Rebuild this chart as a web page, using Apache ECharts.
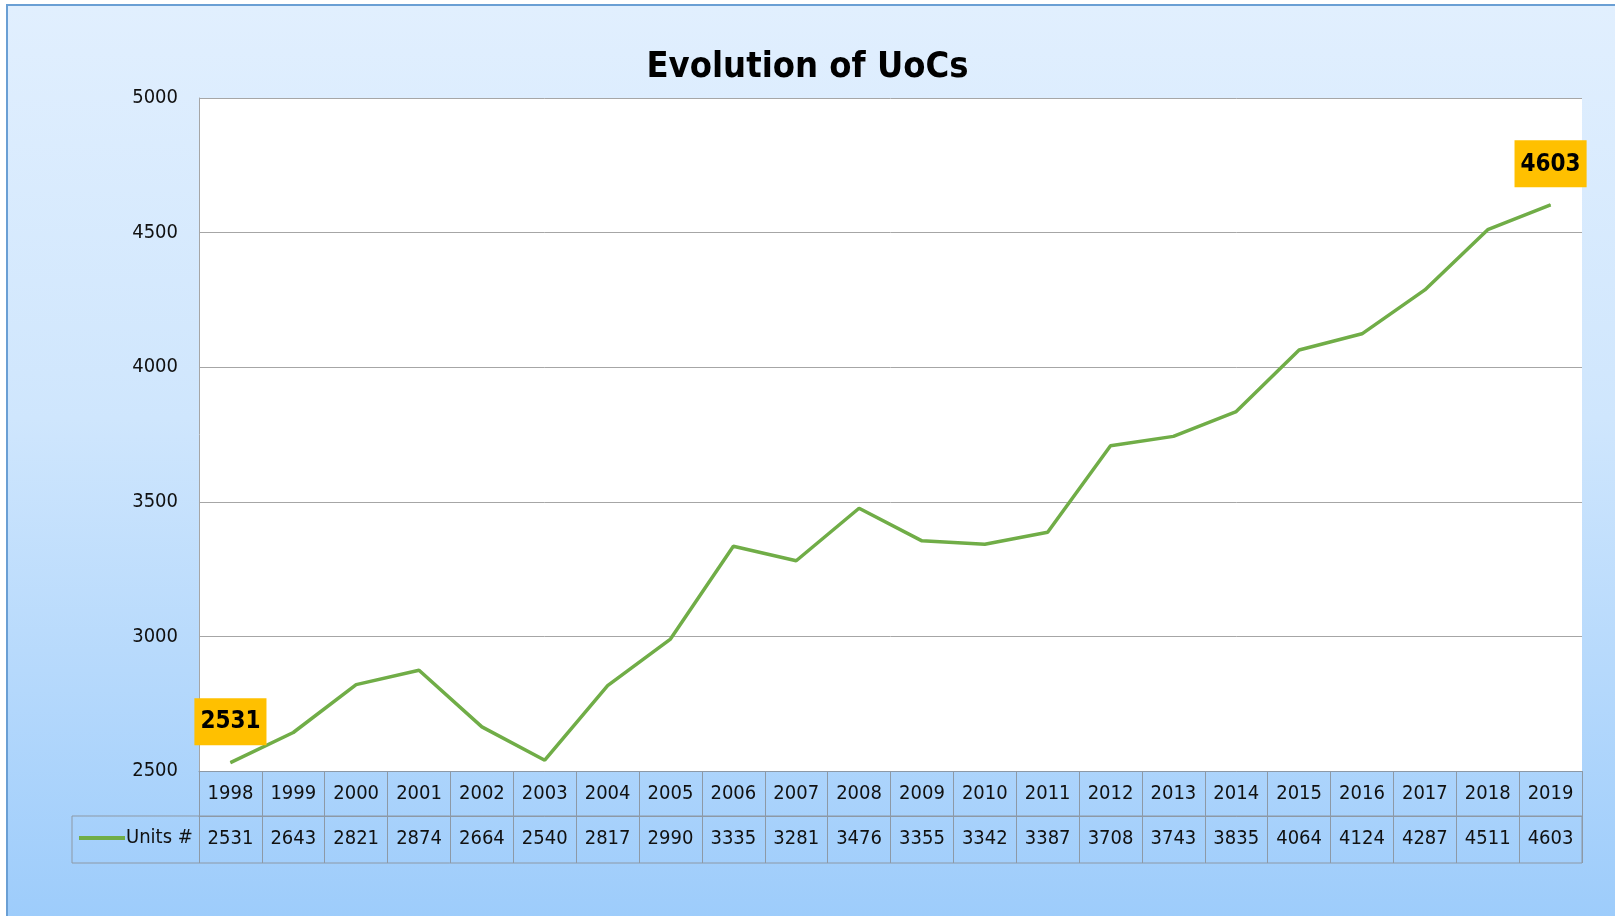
<!DOCTYPE html>
<html>
<head>
<meta charset="utf-8">
<title>Evolution of UoCs</title>
<script src="https://cdn.jsdelivr.net/npm/echarts@6/dist/echarts.min.js"></script>
<style>
  html, body { margin: 0; padding: 0; background: #fff; overflow: hidden; }
  #frame {
    position: absolute; left: 6px; top: 4px; width: 1615px; height: 916px;
    border-left: 2px solid #6a9fd4; border-top: 2px solid #6a9fd4;
    background: linear-gradient(to bottom, #e1effe 0%, #cfe6fd 45%, #9dccfb 100%);
  }
  #chart { position: absolute; left: 0; top: 0; width: 1615px; height: 916px; }
</style>
</head>
<body>
<div id="frame"></div>
<div id="chart"></div>
<script>
// chart data
var years = ['1998', '1999', '2000', '2001', '2002', '2003', '2004', '2005', '2006', '2007', '2008',
  '2009', '2010', '2011', '2012', '2013', '2014', '2015', '2016', '2017', '2018', '2019']
var units = [2531, 2643, 2821, 2874, 2664, 2540, 2817, 2990, 3335, 3281, 3476,
  3355, 3342, 3387, 3708, 3743, 3835, 4064, 4124, 4287, 4511, 4603]
var seriesName = 'Units #'
var yTicks = { min: 2500, max: 5000, interval: 500 }

var narrow = '"DejaVu Sans Condensed", "Liberation Sans", sans-serif'
var tableLine = '#8d99a6'
var textColor = '#111'

var chart = echarts.init(document.getElementById('chart'))

// only the first and the last point get the orange callout
var lineData = units.map(function (v, i) {
  var item = { value: v }
  if (i === 0 || i === units.length - 1) {
    item.label = {
      show: true,
      position: 'top',
      distance: 17,
      backgroundColor: '#ffc000',
      padding: [12, 6, 11, 6],
      color: '#000',
      fontFamily: narrow,
      fontWeight: 'bold',
      fontSize: 24
    }
  }
  return item
})

chart.setOption({
  backgroundColor: 'transparent',
  animation: false,
  title: {
    text: 'Evolution of UoCs',
    left: 'center',
    top: 45,
    textStyle: {
      color: '#000',
      fontFamily: narrow,
      fontWeight: 'bold',
      fontSize: 36
    }
  },
  legend: {
    data: [seriesName],
    left: 79,
    top: 828,
    padding: 0,
    icon: 'rect',
    itemWidth: 46,
    itemHeight: 4,
    textStyle: {
      color: textColor,
      fontFamily: narrow,
      fontSize: 20,
      padding: [0, 0, 0, -4]
    }
  },
  grid: {
    left: 199,
    right: 33,
    top: 98,
    bottom: 145,
    containLabel: false,
    show: true,
    backgroundColor: '#fff',
    borderWidth: 0
  },
  xAxis: [{
    type: 'category',
    data: years,
    position: 'bottom',
    boundaryGap: true,
    axisLine: { show: true, lineStyle: { color: tableLine, width: 1 } },
    axisTick: { show: true, length: 45, lineStyle: { color: tableLine } },
    axisLabel: {
      margin: 13,
      interval: 0,
      color: textColor,
      fontFamily: narrow,
      fontSize: 20
    },
    splitLine: { show: false }
  }, {
    type: 'category',
    data: units.map(String),
    position: 'bottom',
    offset: 45,
    boundaryGap: true,
    axisLine: { show: true, lineStyle: { color: tableLine, width: 1 } },
    axisTick: { show: true, length: 47, lineStyle: { color: tableLine } },
    axisLabel: {
      margin: 13,
      interval: 0,
      color: textColor,
      fontFamily: narrow,
      fontSize: 20
    },
    splitLine: { show: false }
  }],
  yAxis: {
    type: 'value',
    min: yTicks.min,
    max: yTicks.max,
    interval: yTicks.interval,
    axisLine: { show: true, lineStyle: { color: '#a6a6a6' } },
    axisTick: { show: false },
    axisLabel: {
      margin: 21,
      color: textColor,
      fontFamily: narrow,
      fontSize: 20,
      formatter: function (v) { return String(v) }
    },
    splitLine: { show: true, lineStyle: { color: '#a6a6a6', width: 1 } }
  },
  graphic: [{
    // outline of the data table incl. the legend cell
    type: 'rect',
    shape: { x: 72, y: 816, width: 1510, height: 47 },
    style: { fill: 'none', stroke: tableLine, lineWidth: 1 },
    silent: true
  }],
  series: [{
    name: seriesName,
    type: 'line',
    xAxisIndex: 0,
    data: lineData,
    symbol: 'circle',
    symbolSize: 1,
    showSymbol: true,
    color: '#70ad47',
    lineStyle: { color: '#70ad47', width: 3.5 },
    itemStyle: { color: '#70ad47' },
    label: { show: false }
  }]
})
</script>
</body>
</html>
